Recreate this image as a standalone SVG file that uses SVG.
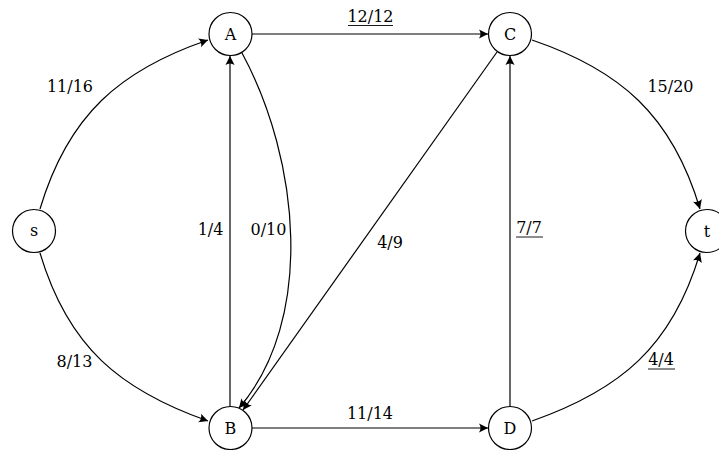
<svg xmlns="http://www.w3.org/2000/svg" width="719" height="450" viewBox="0 0 719 450">
<style>
.node circle{fill:#fff;stroke:#000;stroke-width:1.2}
text{font-family:"DejaVu Serif","Liberation Serif",serif;font-size:16px;fill:#000;text-anchor:middle}
.edges path,.edges line{fill:none;stroke:#000;stroke-width:1.2;marker-end:url(#arr)}
.ul{stroke:#000;stroke-width:0.9}
</style>
<defs>
<marker id="arr" markerUnits="userSpaceOnUse" markerWidth="12" markerHeight="12" viewBox="-9 -5 10 10" refX="0" refY="0" orient="auto">
<path d="M0,0 L-7.5,-3.8 Q-5,0 -7.5,3.8 Z" fill="#000"/>
</marker>
</defs>
<g class="edges">
<path d="M40,209 C68,115 120,70 208,40"/>
<path d="M40,253 C68,347 120,390 208,421"/>
<line x1="252" y1="34" x2="488" y2="34"/>
<line x1="230" y1="406" x2="230" y2="56"/>
<path d="M242,53 C300,160 315,320 239,408"/>
<line x1="497" y1="52" x2="243" y2="410"/>
<line x1="510" y1="406" x2="510" y2="56"/>
<line x1="252" y1="428" x2="488" y2="428"/>
<path d="M532,40 C620,70 672,115 700,209"/>
<path d="M532,421 C620,390 672,347 700,253"/>
</g>
<g id="labels">
<text x="70" y="92">11/16</text>
<text x="370.5" y="22">12/12</text>
<line class="ul" x1="348" y1="25.5" x2="393" y2="25.5"/>
<text x="670.5" y="92">15/20</text>
<text x="210.5" y="235">1/4</text>
<text x="268.5" y="235">0/10</text>
<text x="390" y="248">4/9</text>
<text x="529" y="233">7/7</text>
<line class="ul" x1="516" y1="237" x2="543" y2="237"/>
<text x="74.5" y="367">8/13</text>
<text x="370" y="419">11/14</text>
<text x="661" y="365">4/4</text>
<line class="ul" x1="648" y1="369" x2="675" y2="369"/>
</g>
<g id="s" class="node"><circle cx="34" cy="231" r="21.5"/><text x="34" y="236">s</text></g>
<g id="A" class="node"><circle cx="230.5" cy="34" r="21.5"/><text x="230.5" y="40">A</text></g>
<g id="C" class="node"><circle cx="510" cy="34" r="21.5"/><text x="510" y="40">C</text></g>
<g id="t" class="node"><circle cx="707" cy="231" r="21.5"/><text x="707" y="237">t</text></g>
<g id="B" class="node"><circle cx="230.5" cy="428" r="21.5"/><text x="230.5" y="434">B</text></g>
<g id="D" class="node"><circle cx="510" cy="428" r="21.5"/><text x="510" y="434">D</text></g>
</svg>
